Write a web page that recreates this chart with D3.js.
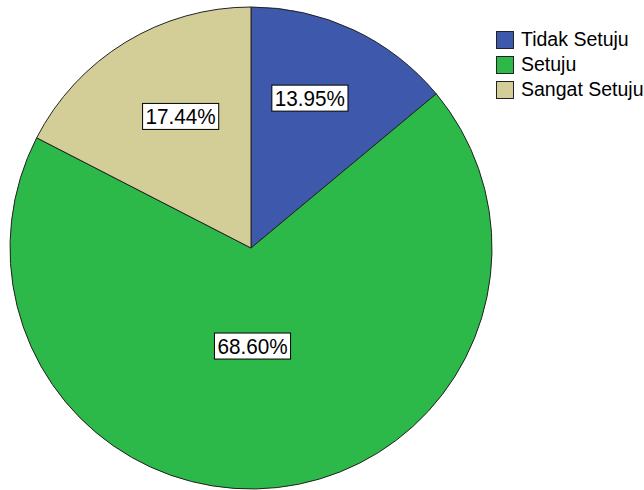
<!DOCTYPE html>
<html><head><meta charset="utf-8">
<script src="https://cdn.jsdelivr.net/npm/d3@7"></script>
<style>body{margin:0;background:#fff}svg{display:block}</style>
</head><body>
<svg id="c" width="644" height="490"></svg>
<script>
const categories = ["Tidak Setuju", "Setuju", "Sangat Setuju"];
const counts = [12, 59, 15];
const percentLabels = ["13.95%", "68.60%", "17.44%"];
const colors = ["#3E58AC", "#2DB84A", "#D3CE97"];
// label placement (offset from arc centroid), styling only
const labelShift = [[-9, -5], [-16, -61], [13, 5]];

const svg = d3.select("#c");
const cx = 251, cy = 248, R = 241;
const g = svg.append("g").attr("transform", `translate(${cx},${cy})`);
const pie = d3.pie().sort(null).value(d => d)(counts);
const arc = d3.arc().innerRadius(0).outerRadius(R);
g.selectAll("path").data(pie).join("path")
  .attr("d", arc).attr("fill", (d, i) => colors[i])
  .attr("stroke", "#222").attr("stroke-width", 1);
const lab = d3.arc().innerRadius(160).outerRadius(160);
const sx = 0.94;
pie.forEach((d, i) => {
  const [x, y] = lab.centroid(d);
  const lg = g.append("g").attr("transform", `translate(${x + labelShift[i][0]},${y + labelShift[i][1]})`);
  const tg = lg.append("g").attr("transform", `scale(${sx},1)`);
  const t = tg.append("text").attr("text-anchor", "middle").attr("dy", "0.36em")
    .attr("font-family", "Liberation Sans, Arial").attr("font-size", 22).attr("fill", "#000")
    .text(percentLabels[i]);
  const b = t.node().getBBox();
  const w = b.width * sx;
  lg.insert("rect", "g").attr("x", -w / 2 - 3).attr("y", -13).attr("width", w + 6).attr("height", 26)
    .attr("fill", "#fff").attr("stroke", "#000").attr("stroke-width", 1);
});
const leg = svg.append("g").attr("transform", "translate(496,31)");
categories.forEach((c, i) => {
  const row = leg.append("g").attr("transform", `translate(0,${i * 25})`);
  row.append("rect").attr("x", 0.5).attr("y", 0.5).attr("width", 17).attr("height", 17)
    .attr("fill", colors[i]).attr("stroke", "#222");
  row.append("text").attr("x", 25).attr("y", 14.5).attr("font-family", "Liberation Sans, Arial")
    .attr("font-size", 19.5).attr("fill", "#000").text(c);
});
</script>
</body></html>
